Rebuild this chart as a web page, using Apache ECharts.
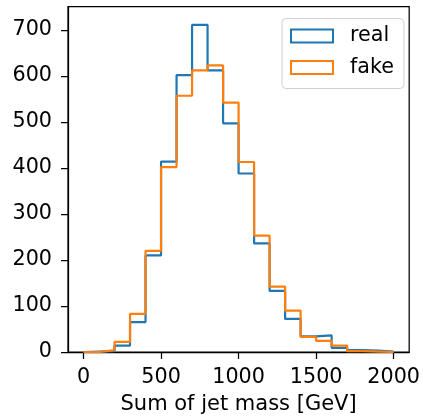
<!DOCTYPE html>
<html>
<head>
<meta charset="utf-8">
<script src="https://cdn.jsdelivr.net/npm/echarts@6/dist/echarts.min.js"></script>
<style>
html,body{margin:0;padding:0;background:#fff;}
#chart{width:423px;height:420px;}
</style>
</head>
<body>
<div id="chart"></div>
<script>
// Histogram bin edges (GeV): 0,100,...,2000
var binStart = 0;
var binWidth = 100;
var realCounts = [1, 2, 14, 65, 210, 414, 602, 711, 612, 497, 388, 236, 133, 72, 34, 36, 9, 4, 3, 1];
var fakeCounts = [0, 4, 22, 83, 220, 402, 557, 612, 623, 542, 413, 253, 142, 90, 33, 24, 14, 2, 1, 0];
var xTicks = [0, 500, 1000, 1500, 2000];
var yTicks = [0, 100, 200, 300, 400, 500, 600, 700];
var seriesNames = ['real', 'fake'];
var colors = ['#1f77b4', '#ff7f0e'];

function stepPath(counts) {
  var pts = [[binStart, 0]];
  for (var i = 0; i < counts.length; i++) {
    var a = binStart + i * binWidth, b = a + binWidth;
    pts.push([a, counts[i]]);
    pts.push([b, counts[i]]);
  }
  pts.push([binStart + counts.length * binWidth, 0]);
  return pts;
}

var font = 'DejaVu Sans';
var fs = 20.7;
var plain = function (v) { return String(v); };
var chart = echarts.init(document.getElementById('chart'), null, {renderer: 'canvas'});
chart.setOption({
  animation: false,
  backgroundColor: '#fff',
  grid: {
    left: 68, top: 6.5, right: 9.5, bottom: 66,
    show: true, borderColor: '#000', borderWidth: 1.25, backgroundColor: 'transparent'
  },
  legend: {
    left: 282, top: 18.5,
    orient: 'vertical',
    data: seriesNames.map(function (n, i) {
      return {name: n, icon: 'rect', itemStyle: {color: 'rgba(0,0,0,0)', borderColor: colors[i], borderWidth: 2}};
    }),
    itemWidth: 42, itemHeight: 13, itemGap: 10.5,
    padding: [7, 10, 10.5, 8],
    borderColor: '#d0d0d0', borderWidth: 1, borderRadius: 4,
    backgroundColor: 'rgba(255,255,255,0.8)',
    textStyle: {fontFamily: font, fontSize: fs, color: '#000', padding: [0, 0, 0, 12], lineHeight: 21},
    selectedMode: false
  },
  xAxis: {
    type: 'value', min: -100, max: 2100,
    name: 'Sum of jet mass [GeV]', nameLocation: 'middle', nameGap: 42,
    nameTextStyle: {fontFamily: font, fontSize: 21, color: '#000'},
    axisLine: {show: true, onZero: false, lineStyle: {color: '#000', width: 1.25}},
    axisTick: {show: true, length: 7, inside: false, customValues: xTicks, lineStyle: {color: '#000', width: 1.25}},
    axisLabel: {fontFamily: font, fontSize: fs, color: '#000', margin: 15, customValues: xTicks, formatter: plain},
    splitLine: {show: false}
  },
  yAxis: {
    type: 'value', min: 0, max: 751,
    axisLine: {show: true, onZero: false, lineStyle: {color: '#000', width: 1.25}},
    axisTick: {show: true, length: 7, inside: false, customValues: yTicks, lineStyle: {color: '#000', width: 1.25}},
    axisLabel: {fontFamily: font, fontSize: fs, color: '#000', margin: 16, customValues: yTicks, formatter: plain},
    splitLine: {show: false}
  },
  series: [realCounts, fakeCounts].map(function (c, i) {
    return {
      name: seriesNames[i], type: 'line', data: stepPath(c),
      showSymbol: false, symbol: 'none', silent: true,
      lineStyle: {color: colors[i], width: 2.2},
      itemStyle: {color: colors[i]},
      z: 2 + i
    };
  })
});
</script>
</body>
</html>
